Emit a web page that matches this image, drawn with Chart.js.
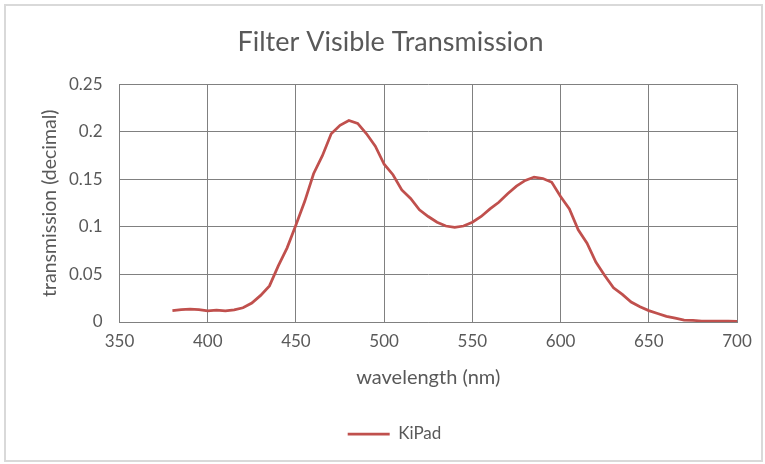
<!DOCTYPE html>
<html>
<head>
<meta charset="utf-8">
<script src="https://cdn.jsdelivr.net/npm/chart.js@4/dist/chart.umd.min.js"></script>
<style>
  html, body { margin: 0; padding: 0; background: #ffffff; }
  #wrap { position: relative; width: 765px; height: 464px; }
  canvas { display: block; }
</style>
</head>
<body>
<div id="wrap"><canvas id="chart" width="765" height="464"></canvas></div>
<script>
// Wavelength samples (nm) and measured transmission of the KiPad filter
const wavelengths = [
  380, 385, 390, 395, 400, 405, 410, 415, 420, 425,
  430, 435, 440, 445, 450, 455, 460, 465, 470, 475,
  480, 485, 490, 495, 500, 505, 510, 515, 520, 525,
  530, 535, 540, 545, 550, 555, 560, 565, 570, 575,
  580, 585, 590, 595, 600, 605, 610, 615, 620, 625,
  630, 635, 640, 645, 650, 655, 660, 665, 670, 675,
  680, 685, 690, 695, 700
];
const kipadTransmission = [
  0.0120, 0.0130, 0.0135, 0.0130, 0.0118, 0.0125, 0.0118, 0.0128, 0.0150, 0.0200,
  0.0280, 0.0380, 0.0590, 0.0780, 0.1020, 0.1270, 0.1560, 0.1750, 0.1980, 0.2070,
  0.2120, 0.2090, 0.1980, 0.1850, 0.1660, 0.1550, 0.1390, 0.1300, 0.1180, 0.1110,
  0.1050, 0.1010, 0.0995, 0.1010, 0.1050, 0.1110, 0.1190, 0.1260, 0.1350, 0.1430,
  0.1490, 0.1525, 0.1510, 0.1470, 0.1320, 0.1190, 0.0970, 0.0830, 0.0630, 0.0490,
  0.0360, 0.0290, 0.0210, 0.0160, 0.0120, 0.0090, 0.0060, 0.0040, 0.0020, 0.0018,
  0.0010, 0.0010, 0.0010, 0.0010, 0.0007
];
const seriesName = 'KiPad';

// Axis ranges and tick spacing
const xRange = [350, 700];
const xStep = 50;
const yRange = [0, 0.25];
const yStep = 0.05;

const textColor = '#595959';
const gridColor = '#808080';
const lineColor = '#c0504d';
const fontFamily = 'Lato, "Open Sans", "DejaVu Sans", sans-serif';

// White panel with a thin grey frame behind everything
const framePlugin = {
  id: 'frame',
  beforeDraw(chart) {
    const ctx = chart.ctx;
    ctx.save();
    ctx.fillStyle = '#ffffff';
    ctx.fillRect(0, 0, chart.width, chart.height);
    ctx.strokeStyle = '#d9d9d9';
    ctx.lineWidth = 2;
    ctx.strokeRect(5, 5, chart.width - 8, chart.height - 8);
    ctx.restore();
  }
};

// Nudge the legend a little right of the plot centre
const legendShiftPlugin = {
  id: 'legendShift',
  afterLayout(chart) {
    const lg = chart.legend;
    if (!lg) return;
    const dx = 4;
    lg.left += dx;
    lg.right += dx;
    if (lg.legendHitBoxes) lg.legendHitBoxes.forEach(b => { b.left += dx; });
  }
};

const points = wavelengths.map((w, i) => ({ x: w, y: kipadTransmission[i] }));

new Chart(document.getElementById('chart'), {
  type: 'line',
  data: {
    datasets: [{
      label: seriesName,
      data: points,
      borderColor: lineColor,
      backgroundColor: lineColor,
      borderWidth: 2.75,
      pointRadius: 0,
      tension: 0,
      fill: false
    }]
  },
  options: {
    responsive: false,
    animation: false,
    devicePixelRatio: 1,
    layout: { padding: { top: 0, right: 28, bottom: 11.5, left: 44 } },
    plugins: {
      title: {
        display: true,
        text: 'Filter Visible Transmission',
        color: textColor,
        font: { family: fontFamily, size: 27, weight: 'normal', lineHeight: 1.2 },
        padding: { top: 26, bottom: 26 }
      },
      legend: {
        display: true,
        position: 'bottom',
        labels: {
          color: textColor,
          font: { family: fontFamily, size: 17 },
          boxWidth: 42,
          boxHeight: 0,
          padding: 10
        }
      },
      tooltip: { enabled: false }
    },
    scales: {
      x: {
        type: 'linear',
        min: xRange[0],
        max: xRange[1],
        afterFit(scale) { scale.height = 93.5; },
        ticks: {
          stepSize: xStep,
          color: textColor,
          font: { family: fontFamily, size: 17 },
          padding: 9,
          maxRotation: 0
        },
        grid: { color: gridColor, lineWidth: 1, drawTicks: false },
        border: { display: true, color: gridColor, width: 1 },
        title: {
          display: true,
          text: 'wavelength (nm)',
          color: textColor,
          font: { family: fontFamily, size: 20 },
          padding: { top: 0, bottom: 25.5 }
        }
      },
      y: {
        type: 'linear',
        min: yRange[0],
        max: yRange[1],
        afterFit(scale) { scale.width = 75.5; },
        ticks: {
          stepSize: yStep,
          color: textColor,
          font: { family: fontFamily, size: 17 },
          padding: 17,
          callback: (v) => String(+Number(v).toFixed(2))
        },
        grid: { color: gridColor, lineWidth: 1, drawTicks: false },
        border: { display: true, color: gridColor, width: 1 },
        title: {
          display: true,
          text: 'transmission (decimal)',
          color: textColor,
          font: { family: fontFamily, size: 19.5, lineHeight: 0.6 },
          padding: { top: 0, bottom: 0 }
        }
      }
    }
  },
  plugins: [framePlugin, legendShiftPlugin]
});
</script>
</body>
</html>
